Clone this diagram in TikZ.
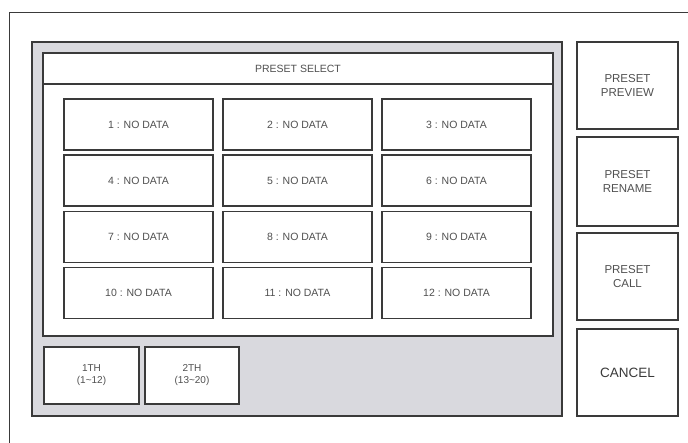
\documentclass[tikz,border=0pt]{standalone}
\usepackage{fontspec}
\setmainfont{Liberation Sans}
\definecolor{edge}{HTML}{3A3A3A}
\definecolor{panelgray}{HTML}{D9D9DE}
\definecolor{txt}{HTML}{505050}
\begin{document}
\begin{tikzpicture}[x=1pt,y=-1pt,
  frame/.style={draw=edge,line width=1.5pt},
  panel/.style={draw=edge,line width=1.6pt,fill=panelgray,inner sep=0pt,outer sep=0pt},
  white/.style={draw=edge,line width=1.6pt,fill=white,inner sep=0pt,outer sep=0pt},
  btn/.style={draw=edge,line width=1.6pt,fill=white,inner sep=0pt,outer sep=0pt,
    minimum width=149pt,minimum height=51pt,text=txt,font=\fontsize{10.5}{12}\selectfont},
  tab/.style={draw=edge,line width=1.6pt,fill=white,inner sep=0pt,outer sep=0pt,
    minimum height=57pt,text=txt,align=center,font=\fontsize{10}{12}\selectfont},
  side/.style={draw=edge,line width=1.6pt,fill=white,inner sep=0pt,outer sep=0pt,
    minimum width=101pt,text=txt,align=center,font=\fontsize{11.5}{14}\selectfont},
  title/.style={text=txt,font=\fontsize{10.5}{12}\selectfont,inner sep=0pt}
]
\useasboundingbox (0,0) rectangle (688,443);
% outer frame (open to right and bottom)
\coordinate (fa) at (9.5,443);
\coordinate (fb) at (9.5,12.7);
\coordinate (fc) at (688,12.7);
\draw[frame] (fa) -- (fb) -- (fc);
% gray panel
\node[panel,minimum width=530pt,minimum height=374pt] (gp) at (297,229) {};
% inner white panel
\node[white,minimum width=510pt,minimum height=283pt] (wp) at (298,194.5) {};
\coordinate (tl) at (43,84);
\coordinate (tr) at (553,84);
\draw[edge,line width=1.6pt] (tl) -- (tr);
\node[title] (ttl) at (298,68.5) {PRESET SELECT};
% grid
\node[btn] (b1) at (138.5,124.5) {1 : NO DATA};
\node[btn] (b2) at (297.5,124.5) {2 : NO DATA};
\node[btn] (b3) at (456.5,124.5) {3 : NO DATA};
\node[btn] (b4) at (138.5,180.7) {4 : NO DATA};
\node[btn] (b5) at (297.5,180.7) {5 : NO DATA};
\node[btn] (b6) at (456.5,180.7) {6 : NO DATA};
\node[btn] (b7) at (138.5,236.9) {7 : NO DATA};
\node[btn] (b8) at (297.5,236.9) {8 : NO DATA};
\node[btn] (b9) at (456.5,236.9) {9 : NO DATA};
\node[btn] (b10) at (138.5,293.1) {10 : NO DATA};
\node[btn] (b11) at (297.5,293.1) {11 : NO DATA};
\node[btn] (b12) at (456.5,293.1) {12 : NO DATA};
% tabs
\node[tab,minimum width=95pt] (t1) at (91.5,375.5) {1TH\\(1\textasciitilde12)};
\node[tab,minimum width=94pt] (t2) at (192,375.5) {2TH\\(13\textasciitilde20)};
% right buttons
\node[side,minimum height=87pt] (s1) at (627.5,85.5) {PRESET\\PREVIEW};
\node[side,minimum height=89pt] (s2) at (627.5,181.5) {PRESET\\RENAME};
\node[side,minimum height=87pt] (s3) at (627.5,276.5) {PRESET\\CALL};
\node[side,minimum height=87pt,text=edge,font=\fontsize{13.5}{16}\selectfont] (s4) at (627.5,372.5) {CANCEL};
\end{tikzpicture}
\end{document}
